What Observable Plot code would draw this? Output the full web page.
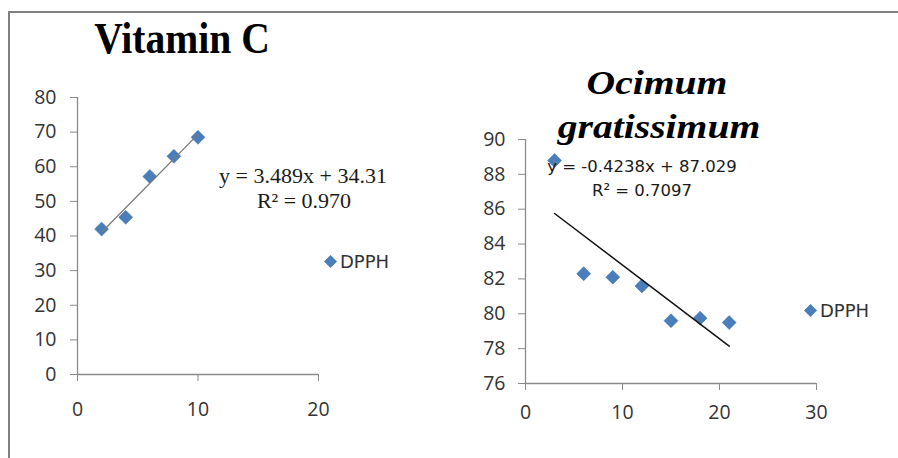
<!DOCTYPE html>
<html>
<head>
<meta charset="utf-8">
<script src="https://cdn.jsdelivr.net/npm/d3@7"></script>
<script src="https://cdn.jsdelivr.net/npm/@observablehq/plot@0.6"></script>
<style>
  html, body { margin: 0; padding: 0; background: #fff; }
  #root { position: relative; width: 898px; height: 458px; overflow: hidden; background: #fff; }
  #frame { position: absolute; left: 8px; top: 11px; right: 0; bottom: 0; border-top: 2px solid #808080; border-left: 2px solid #808080; }
  .panel { position: absolute; top: 0; }
  .title { position: absolute; color: #000; white-space: nowrap; line-height: 1; }
  .eq { position: absolute; white-space: nowrap; line-height: 1; color: #1a1a1a; }
  .legend { position: absolute; white-space: nowrap; font-family: "DejaVu Sans", sans-serif; font-size: 18px; color: #333; display: flex; align-items: center; }
  .legend svg { margin-right: 3px; }
</style>
</head>
<body>
<div id="root">
  <div id="frame"></div>
  <div id="left" class="panel" style="left:0;"></div>
  <div id="right" class="panel" style="left:450px;"></div>
</div>
<script>
// ---- data ----
const vitCx = [2, 4, 6, 8, 10];
const vitCy = [42, 45.4, 57.2, 63.0, 68.5];
const vitTicksX = [0, 10, 20];
const vitTicksY = [0, 10, 20, 30, 40, 50, 60, 70, 80];

const ociX = [3, 6, 9, 12, 15, 18, 21];
const ociY = [88.8, 82.3, 82.1, 81.6, 79.6, 79.75, 79.5];
const ociTicksX = [0, 10, 20, 30];
const ociTicksY = [76, 78, 80, 82, 84, 86, 88, 90];

const titles = ["Vitamin C", "Ocimum", "gratissimum"];
const eqLeft = ["y = 3.489x + 34.31", "R² = 0.970"];
const eqRight = ["y = -0.4238x + 87.029", "R² = 0.7097"];
const seriesName = "DPPH";

const blue = "#4A7EBB";
const axisGrey = "#8a8a8a";
const tickFont = "'Open Sans', sans-serif";

const vitData = vitCx.map((x, i) => ({x, y: vitCy[i]}));
const ociData = ociX.map((x, i) => ({x, y: ociY[i]}));

function chart(data, opts) {
  return Plot.plot({
    width: opts.width,
    height: 458,
    marginLeft: opts.ml, marginRight: opts.mr, marginTop: opts.mt, marginBottom: opts.mb,
    style: {fontFamily: tickFont, fontSize: "19.5px", color: "#333", background: "transparent", overflow: "visible"},
    x: {domain: opts.xd, ticks: opts.xt, label: null},
    y: {domain: opts.yd, ticks: opts.yt, label: null},
    marks: [
      Plot.axisX({ticks: opts.xt, tickSize: 7, tickPadding: opts.xpad, stroke: axisGrey, fill: "#333", label: null, fontSize: 19.5}),
      Plot.axisY({ticks: opts.yt, tickSize: 7, tickPadding: opts.ypad, stroke: axisGrey, fill: "#333", label: null, fontSize: 19.5}),
      Plot.ruleX([opts.xd[0]], {stroke: axisGrey, strokeWidth: 1.3}),
      Plot.ruleY([opts.yd[0]], {stroke: axisGrey, strokeWidth: 1.3}),
      Plot.dot(data, {x: "x", y: "y", symbol: "diamond2", r: 6.3, fill: blue, stroke: "#3f6fa8", strokeWidth: 0.5}),
      Plot.linearRegressionY(data, {x: "x", y: "y", ci: 0, stroke: opts.lineColor, strokeWidth: opts.lineWidth})
    ]
  });
}

document.getElementById("left").appendChild(chart(vitData, {
  width: 450, ml: 77, mr: 132, mt: 97, mb: 84,
  xd: [0, 20], yd: [0, 80], xt: vitTicksX, yt: vitTicksY,
  xpad: 21, ypad: 14, lineColor: "#7a7a7a", lineWidth: 1.3
}));
document.getElementById("right").appendChild(chart(ociData, {
  width: 448, ml: 75, mr: 82, mt: 139, mb: 75,
  xd: [0, 30], yd: [76, 90], xt: ociTicksX, yt: ociTicksY,
  xpad: 15, ypad: 13, lineColor: "#111", lineWidth: 1.5
}));

const root = document.getElementById("root");
function addText(cls, text, css) {
  const d = document.createElement("div");
  d.className = cls;
  d.textContent = text;
  Object.assign(d.style, css);
  root.appendChild(d);
  return d;
}
// titles
addText("title", titles[0], {left: "182px", top: "17px", transform: "translateX(-50%) scaleX(0.9)", fontFamily: "'Liberation Serif', 'Times New Roman', serif", fontWeight: "bold", fontSize: "44px"});
addText("title", titles[1], {left: "657px", top: "67px", transform: "translateX(-50%) scaleX(1.2)", fontFamily: "'Liberation Serif', 'Times New Roman', serif", fontWeight: "bold", fontStyle: "italic", fontSize: "33px"});
addText("title", titles[2], {left: "659px", top: "111px", transform: "translateX(-50%) scaleX(1.2)", fontFamily: "'Liberation Serif', 'Times New Roman', serif", fontWeight: "bold", fontStyle: "italic", fontSize: "33px"});
// equations
addText("eq", eqLeft[0], {left: "303px", top: "165px", transform: "translateX(-50%)", fontFamily: "'Liberation Serif', 'Times New Roman', serif", fontSize: "22px"});
addText("eq", eqLeft[1], {left: "304px", top: "190px", transform: "translateX(-50%)", fontFamily: "'Liberation Serif', 'Times New Roman', serif", fontSize: "22px"});
addText("eq", eqRight[0], {left: "642px", top: "159px", transform: "translateX(-50%)", fontFamily: "'DejaVu Sans', sans-serif", fontSize: "16.5px"});
addText("eq", eqRight[1], {left: "642px", top: "183px", transform: "translateX(-50%)", fontFamily: "'DejaVu Sans', sans-serif", fontSize: "16.5px"});

// legends
function legend(left, top) {
  const d = document.createElement("div");
  d.className = "legend";
  d.style.left = left + "px";
  d.style.top = top + "px";
  d.innerHTML = `<svg width="13" height="13" viewBox="-6.5 -6.5 13 13"><path d="M0,-6.5L6.5,0L0,6.5L-6.5,0Z" fill="${blue}"/></svg><span>${seriesName}</span>`;
  root.appendChild(d);
}
legend(324, 251);
legend(804, 300);
</script>
</body>
</html>
